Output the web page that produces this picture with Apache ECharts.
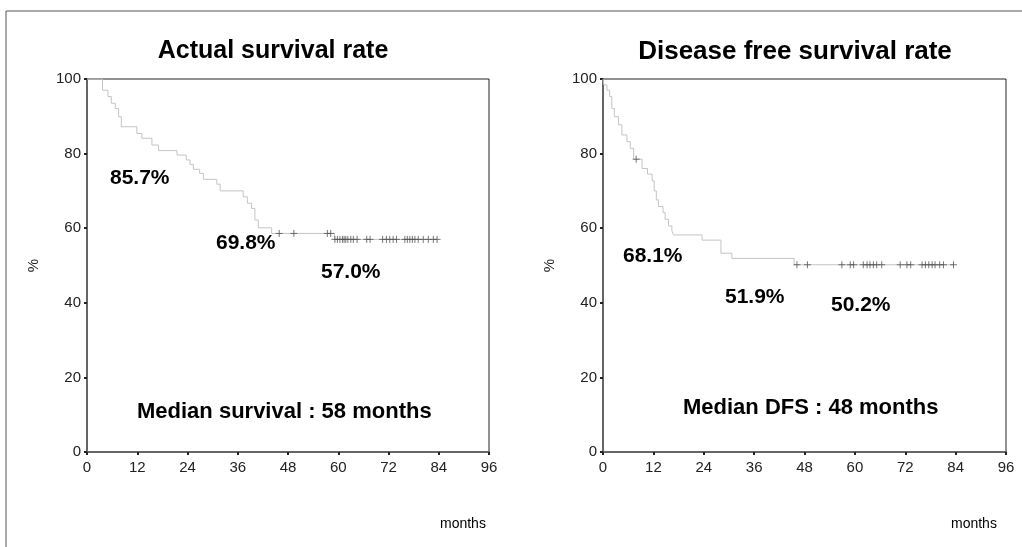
<!DOCTYPE html>
<html><head><meta charset="utf-8">
<script src="https://cdn.jsdelivr.net/npm/echarts@6/dist/echarts.min.js"></script>
<style>html,body{margin:0;padding:0;background:#fff}#c{width:1022px;height:547px}</style>
</head><body><div id="c"></div>
<script>
// ---- data ----
var xTicks = [0, 12, 24, 36, 48, 60, 72, 84, 96];
var yTicks = [0, 20, 40, 60, 80, 100];
// Actual survival (Kaplan-Meier steps: [month, survival %])
var osTimes = [0, 3.7, 5.0, 5.8, 6.75, 7.55, 8.2, 11.9, 13.1, 15.5, 17.1, 21.5, 23.7, 24.6, 25.4, 26.9, 27.8, 31.0, 31.8, 37.3, 38.3, 39.3, 40.1, 40.9, 44.1, 59.1, 83.6];
var osSurv  = [100, 97.0, 95.3, 93.5, 92.1, 89.9, 87.2, 85.4, 84.1, 82.3, 80.8, 79.6, 78.3, 77.1, 75.8, 74.7, 73.1, 71.8, 70.0, 68.4, 66.7, 65.3, 62.2, 60.1, 58.6, 57.0, 57.0];
var osCensor = [45.9, 49.4, 57.4, 58.2, 59.2, 59.8, 60.4, 61.0, 61.4, 61.8, 62.3, 63.0, 63.6, 64.5, 66.8, 67.6, 70.6, 71.5, 72.3, 73.1, 73.9, 75.9, 76.5, 77.1, 77.7, 78.3, 79.1, 80.3, 81.5, 82.7, 83.6];
// Disease free survival
var dfsTimes = [0, 0.2, 0.95, 1.6, 2.1, 2.7, 3.7, 4.5, 5.7, 6.5, 7.3, 9.3, 10.6, 11.7, 12.2, 12.7, 13.2, 14.3, 14.8, 15.6, 16.4, 16.8, 23.6, 28.1, 30.7, 45.5, 83.5];
var dfsSurv  = [100, 98.4, 97.0, 95.3, 92.1, 89.9, 87.7, 85.0, 83.2, 81.4, 78.5, 76.0, 74.5, 72.7, 70.0, 67.6, 65.8, 64.2, 62.4, 60.6, 59.3, 58.2, 56.8, 53.3, 51.9, 50.2, 50.2];
var dfsCensor = [7.9, 46.2, 48.7, 56.9, 58.9, 59.7, 62.0, 62.9, 63.6, 64.4, 65.2, 66.4, 70.8, 72.4, 73.3, 76.0, 76.8, 77.6, 78.4, 79.1, 80.2, 81.1, 83.5];
var titles = ['Actual survival rate', 'Disease free survival rate'];
var notes = [
  ['85.7%', '69.8%', '57.0%', 'Median survival : 58 months'],
  ['68.1%', '51.9%', '50.2%', 'Median DFS : 48 months']
];
var xName = 'months', yName = '%';

function survAt(times, surv, t) {
  var v = surv[0];
  for (var i = 0; i < times.length; i++) { if (times[i] <= t) v = surv[i]; }
  return v;
}
function pairs(a, b) { return a.map(function (t, i) { return [t, b[i]]; }); }
function cens(c, times, surv) { return c.map(function (t) { return [t, survAt(times, surv, t)]; }); }

var FONT = '"Liberation Sans", Arial, sans-serif';
var plus = 'path://M5,0 L5,10 M0,5 L10,5';

function mkX(i) {
  return {
    type: 'value', gridIndex: i, min: xTicks[0], max: xTicks[xTicks.length - 1], interval: 12,
    axisLine: { show: true, lineStyle: { color: '#666', width: 2 } },
    axisTick: { show: true, length: 3, lineStyle: { color: '#222', width: 2 } },
    axisLabel: { fontFamily: FONT, fontSize: 15, color: '#222', margin: 8 },
    splitLine: { show: false }
  };
}
function mkY(i) {
  return {
    type: 'value', gridIndex: i, min: yTicks[0], max: yTicks[yTicks.length - 1], interval: 20,
    name: yName, nameLocation: 'middle', nameGap: 46, nameRotate: 90,
    nameTextStyle: { fontFamily: FONT, fontSize: 15, color: '#222' },
    axisLine: { show: true, lineStyle: { color: '#666', width: 2 } },
    axisTick: { show: true, length: 3, lineStyle: { color: '#222', width: 2 } },
    axisLabel: { fontFamily: FONT, fontSize: 15, color: '#222', margin: 6 },
    splitLine: { show: false }
  };
}
function lineS(i, t, s) {
  return { type: 'line', xAxisIndex: i, yAxisIndex: i, step: 'end', data: pairs(t, s), symbol: 'none',
    lineStyle: { color: '#c4c4c4', width: 1 }, z: 3, animation: false };
}
function censS(i, c, t, s) {
  return { type: 'scatter', xAxisIndex: i, yAxisIndex: i, data: cens(c, t, s), symbol: plus, symbolSize: 7,
    itemStyle: { color: 'none', borderColor: '#555', borderWidth: 1 }, z: 4, animation: false };
}

var chart = echarts.init(document.getElementById('c'));
function txt(x, y, s, size, bold) {
  return { type: 'text', left: x, top: y, style: { text: s, fontFamily: FONT, fontWeight: bold ? 'bold' : 'normal', fontSize: size, fill: '#000' }, z: 10 };
}
chart.setOption({
  animation: false,
  grid: [
    { left: 87, right: 533, top: 79, bottom: 95, show: true, borderColor: '#222', borderWidth: 1 },
    { left: 603, right: 16, top: 79, bottom: 95, show: true, borderColor: '#222', borderWidth: 1 }
  ],
  title: [
    { text: titles[0], left: 268, top: 34, textAlign: 'center', textStyle: { fontFamily: FONT, fontSize: 25, fontWeight: 'bold', color: '#000' } },
    { text: titles[1], left: 790, top: 34, textAlign: 'center', textStyle: { fontFamily: FONT, fontSize: 26, fontWeight: 'bold', color: '#000' } }
  ],
  xAxis: [mkX(0), mkX(1)],
  yAxis: [mkY(0), mkY(1)],
  series: [
    lineS(0, osTimes, osSurv), censS(0, osCensor, osTimes, osSurv),
    lineS(1, dfsTimes, dfsSurv), censS(1, dfsCensor, dfsTimes, dfsSurv)
  ],
  graphic: [
    { type: 'polyline', shape: { points: [[6, 547], [6, 11], [1022, 11]] }, style: { stroke: '#555', lineWidth: 1, fill: null } },
    txt(110, 168, notes[0][0], 21, true), txt(216, 233, notes[0][1], 21, true), txt(321, 262, notes[0][2], 21, true),
    txt(137, 401, notes[0][3], 22, true),
    txt(623, 246, notes[1][0], 21, true), txt(725, 287, notes[1][1], 21, true), txt(831, 295, notes[1][2], 21, true),
    txt(683, 397, notes[1][3], 22, true),
    txt(440, 517, xName, 14, false), txt(951, 517, xName, 14, false)
  ]
});
</script></body></html>
